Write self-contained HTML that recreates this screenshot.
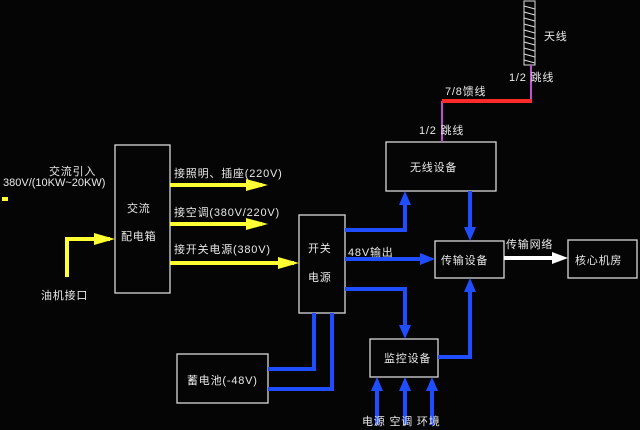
<!DOCTYPE html>
<html><head><meta charset="utf-8"><style>
html,body{margin:0;padding:0;background:#050505;}
svg{display:block}
text{font-family:"Liberation Sans","Noto Sans CJK SC",sans-serif;fill:#e8e8e8;font-size:11px;letter-spacing:0.8px;}
</style></head><body>
<svg width="640" height="430" viewBox="0 0 640 430" xmlns="http://www.w3.org/2000/svg">
<g fill="none" stroke="#d8d8d8" stroke-width="1.3">
<rect x="115" y="145" width="55" height="148"/>
<rect x="299" y="215" width="46" height="98"/>
<rect x="177" y="354" width="91" height="49"/>
<rect x="370" y="339" width="68" height="38"/>
<rect x="435" y="241" width="69" height="37"/>
<rect x="386" y="142" width="110" height="49"/>
<rect x="568" y="240" width="69" height="38"/>
</g>
<rect x="524" y="1" width="11" height="64" fill="none" stroke="#ddd" stroke-width="1"/>
<g stroke="#ddd" stroke-width="1">
<path d="M524,6 L535,9 M524,12 L535,15 M524,18 L535,21 M524,24 L535,27 M524,30 L535,33 M524,36 L535,39 M524,42 L535,45 M524,48 L535,51 M524,54 L535,57 M524,60 L535,63"/>
</g>
<path d="M531,65 V101 M442,101 V142" stroke="#c050d0" stroke-width="2" fill="none"/>
<path d="M442,101 H532" stroke="#ff2a2a" stroke-width="4"/>
<g stroke="#ffff33" stroke-width="4" fill="none">
<path d="M170,185 H262"/>
<path d="M170,224 H262"/>
<path d="M170,263 H294"/>
<path d="M67,277 V239 H110"/>
</g>
<g fill="#ffff33">
<path d="M246,179 L268,185 L246,191z"/>
<path d="M246,218 L268,224 L246,230z"/>
<path d="M278,257 L299,263 L278,269z"/>
<path d="M94,233 L115,239 L94,245z"/>
<rect x="2" y="197" width="6" height="4"/>
</g>
<g stroke="#1f4dff" stroke-width="4" fill="none">
<path d="M345,230 H405 V200"/>
<path d="M345,259 H425"/>
<path d="M345,289 H405 V330"/>
<path d="M470,191 V232"/>
<path d="M438,357 H470 V288"/>
<path d="M314,313 V369 H268"/>
<path d="M332,313 V389 H268"/>
<path d="M377,425 V386 M405,425 V386 M432,425 V386"/>
</g>
<g fill="#1f4dff">
<path d="M399,205 L405,191 L411,205z"/>
<path d="M420,253 L435,259 L420,265z"/>
<path d="M399,325 L405,339 L411,325z"/>
<path d="M464,227 L470,241 L476,227z"/>
<path d="M464,292 L470,278 L476,292z"/>
<path d="M371,391 L377,377 L383,391z"/>
<path d="M399,391 L405,377 L411,391z"/>
<path d="M426,391 L432,377 L438,391z"/>
</g>
<path d="M504,258 H555" stroke="#fff" stroke-width="4"/>
<path d="M552,252 L568,258 L552,264z" fill="#fff"/>
<text x="49" y="175" font-size="12">交流引入</text>
<text x="3" y="186" font-size="8" style="letter-spacing:0">380V/(10KW~20KW)</text>
<text x="127" y="212" font-size="12">交流</text>
<text x="121" y="240" font-size="12">配电箱</text>
<text x="174" y="177" font-size="11">接照明、插座(220V)</text>
<text x="174" y="216" font-size="11">接空调(380V/220V)</text>
<text x="174" y="253" font-size="11">接开关电源(380V)</text>
<text x="41" y="299" font-size="11">油机接口</text>
<text x="308" y="252" font-size="12">开关</text>
<text x="308" y="281" font-size="12">电源</text>
<text x="348" y="256" font-size="11">48V输出</text>
<text x="187" y="384" font-size="11">蓄电池(-48V)</text>
<text x="384" y="362" font-size="11">监控设备</text>
<text x="441" y="264" font-size="11">传输设备</text>
<text x="410" y="171" font-size="11">无线设备</text>
<text x="575" y="264" font-size="11">核心机房</text>
<text x="506" y="248" font-size="11">传输网络</text>
<text x="544" y="40" font-size="11">天线</text>
<text x="509" y="81" font-size="11">1/2 跳线</text>
<text x="445" y="95" font-size="11">7/8馈线</text>
<text x="419" y="134" font-size="11">1/2 跳线</text>
<text x="362" y="425" font-size="11">电源 空调 环境</text>
</svg>
</body></html>
